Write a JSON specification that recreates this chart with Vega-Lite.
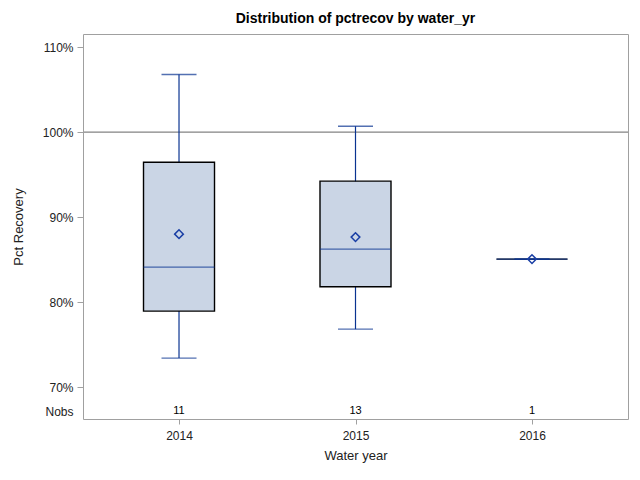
{
  "$schema": "https://vega.github.io/schema/vega-lite/v6.json",
  "autosize": "none",
  "width": 545,
  "height": 385,
  "padding": {"left": 83, "top": 34, "right": 12, "bottom": 61},
  "background": "white",
  "config": {
    "font": "Liberation Sans",
    "view": {"stroke": "#a0a0a0", "strokeWidth": 1},
    "axis": {"labelFont": "Liberation Sans", "titleFont": "Liberation Sans", "labelColor": "#222222", "titleColor": "#222222", "labelFontSize": 12, "titleFontSize": 13, "titleFontWeight": "normal", "tickColor": "#a0a0a0", "domain": false, "grid": false}
  },
  "title": {"text": "Distribution of pctrecov by water_yr", "fontSize": 14, "fontWeight": "bold", "color": "#000000", "font": "Liberation Sans", "anchor": "middle", "offset": 8},
  "data": {"values": [
    {"water_yr": "2014", "n": 11, "min": 73.41, "q1": 78.94, "median": 84.12, "q3": 96.47, "max": 106.8, "mean": 88.0},
    {"water_yr": "2015", "n": 13, "min": 76.82, "q1": 81.8, "median": 86.24, "q3": 94.24, "max": 100.7, "mean": 87.65},
    {"water_yr": "2016", "n": 1, "min": 85.06, "q1": 85.06, "median": 85.06, "q3": 85.06, "max": 85.06, "mean": 85.06}
  ]},
  "encoding": {
    "x": {"field": "water_yr", "type": "nominal", "scale": {"type": "point", "padding": 0.544}, "axis": {"title": "Water year", "labelAngle": 0, "tickSize": 5, "labelPadding": 6, "titlePadding": 8}}
  },
  "layer": [
    {
      "mark": {"type": "rule", "color": "#a0a0a0", "strokeWidth": 1},
      "encoding": {"y": {"datum": 100, "type": "quantitative", "scale": {"domain": [66.24, 111.56], "nice": false, "zero": false},
        "axis": {"title": "Pct Recovery", "values": [67.13, 70, 80, 90, 100, 110], "labelExpr": "datum.value < 69 ? 'Nobs' : format(datum.value, 'd') + '%'", "tickSize": 6, "tickOpacity": {"condition": {"test": "datum.value < 69", "value": 0}, "value": 1}, "labelPadding": 4, "titlePadding": 17}},
        "x": null}
    },
    {
      "mark": {"type": "rule", "color": "#0a3391", "strokeWidth": 1.2},
      "encoding": {"y": {"field": "min", "type": "quantitative"}, "y2": {"field": "max"}}
    },
    {
      "mark": {"type": "bar", "size": 71, "fill": "#cad5e5", "stroke": "#000000", "strokeWidth": 1.4},
      "encoding": {"y": {"field": "q1", "type": "quantitative"}, "y2": {"field": "q3"}}
    },
    {
      "mark": {"type": "tick", "size": 35, "thickness": 1.4, "color": "#0a3391", "orient": "horizontal"},
      "encoding": {"y": {"field": "min", "type": "quantitative"}}
    },
    {
      "mark": {"type": "tick", "size": 35, "thickness": 1.4, "color": "#0a3391", "orient": "horizontal"},
      "encoding": {"y": {"field": "max", "type": "quantitative"}}
    },
    {
      "mark": {"type": "tick", "size": 71, "thickness": 1.4, "color": "#0a3391", "orient": "horizontal"},
      "encoding": {"y": {"field": "median", "type": "quantitative"}}
    },
    {
      "mark": {"type": "point", "shape": "diamond", "size": 75, "filled": false, "color": "#1a3fa5", "strokeWidth": 1.5, "opacity": 1},
      "encoding": {"y": {"field": "mean", "type": "quantitative"}}
    },
    {
      "mark": {"type": "text", "fontSize": 11, "color": "#000000", "baseline": "middle"},
      "encoding": {"y": {"datum": 67.13, "type": "quantitative"}, "text": {"field": "n", "type": "quantitative"}}
    }
  ]
}
